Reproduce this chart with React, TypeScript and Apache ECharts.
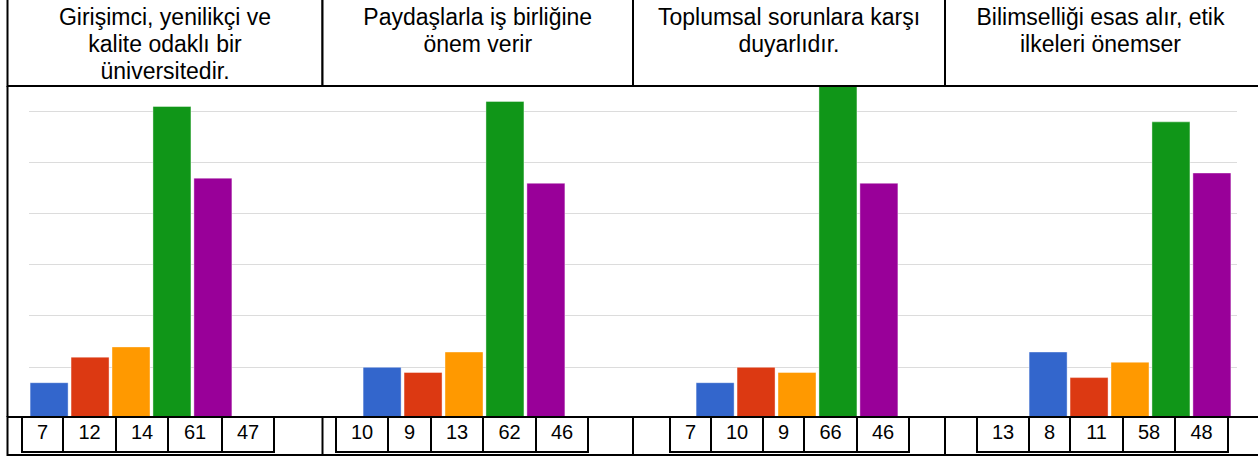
import React, { useEffect, useRef } from "react";
import * as echarts from "echarts";

// ---- data ----
const categories = [
  "Girişimci, yenilikçi ve\nkalite odaklı bir\nüniversitedir.",
  "Paydaşlarla iş birliğine\nönem verir",
  "Toplumsal sorunlara karşı\nduyarlıdır.",
  "Bilimselliği esas alır, etik\nilkeleri önemser",
];
const seriesBlue = [7, 10, 7, 13];
const seriesRed = [12, 9, 10, 8];
const seriesOrange = [14, 13, 9, 11];
const seriesGreen = [61, 62, 66, 58];
const seriesPurple = [47, 46, 46, 48];
const yTicks = [0, 10, 20, 30, 40, 50, 60, 70];

// ---- layout (positions, not data) ----
const OFF = 40; // chart canvas extends beyond the page on both sides
const CW = 1258 + 2 * OFF;
const headerEdges = [7.5, 322.5, 633, 945, 1262];
const cellEdges = [
  [22, 63, 116, 168, 222, 274],
  [336, 388, 431, 483, 536, 588],
  [670, 711, 763, 804, 857, 909],
  [977, 1029, 1070, 1123, 1175, 1228],
];
const FONT = "'Liberation Sans', Arial, sans-serif";

export default function App() {
  const ref = useRef<HTMLDivElement>(null);
  useEffect(() => {
    if (!ref.current) return;
    const chart = echarts.init(ref.current, undefined, { renderer: "svg" });
    const allSeries = [
      { data: seriesBlue, color: "#3366cc" },
      { data: seriesRed, color: "#dc3912" },
      { data: seriesOrange, color: "#ff9900" },
      { data: seriesGreen, color: "#109618" },
      { data: seriesPurple, color: "#990099" },
    ];
    const X = (v: number) => v + OFF;
    const graphics: any[] = [];
    const headerTop = -5;
    const headerBottom = 86;
    const rowTop = 417;
    const rowBottom = 455;
    const boxBottom = 452;
    const black = "#000";
    for (let i = 0; i < 4; i++) {
      graphics.push({
        type: "rect",
        z: 100,
        shape: { x: X(headerEdges[i]), y: headerTop, width: headerEdges[i + 1] - headerEdges[i], height: headerBottom - headerTop },
        style: { fill: "#fff", stroke: black, lineWidth: 2 },
      });
      graphics.push({
        type: "text",
        z: 101,
        x: X((headerEdges[i] + Math.min(headerEdges[i + 1], 1256)) / 2),
        y: 3,
        style: {
          text: categories[i],
          fontSize: 23,
          fontFamily: FONT,
          fill: "#000",
          align: "center",
          verticalAlign: "top",
          lineHeight: 27,
        },
      });
    }
    graphics.push({
      type: "line",
      z: 100,
      shape: { x1: X(7.5), y1: headerBottom, x2: X(7.5), y2: rowTop },
      style: { stroke: black, lineWidth: 2 },
    });
    graphics.push({
      type: "rect",
      z: 100,
      shape: { x: X(7.5), y: rowTop, width: 1262 - 7.5, height: rowBottom - rowTop },
      style: { fill: "#fff", stroke: black, lineWidth: 2 },
    });
    for (let i = 1; i < 4; i++) {
      graphics.push({
        type: "line",
        z: 101,
        shape: { x1: X(headerEdges[i]), y1: rowTop, x2: X(headerEdges[i]), y2: rowBottom },
        style: { stroke: black, lineWidth: 2 },
      });
    }
    for (let g = 0; g < 4; g++) {
      const e = cellEdges[g];
      graphics.push({
        type: "rect",
        z: 101,
        shape: { x: X(e[0]), y: rowTop, width: e[5] - e[0], height: boxBottom - rowTop },
        style: { fill: "none", stroke: black, lineWidth: 2 },
      });
      for (let k = 1; k < 5; k++) {
        graphics.push({
          type: "line",
          z: 101,
          shape: { x1: X(e[k]), y1: rowTop, x2: X(e[k]), y2: boxBottom },
          style: { stroke: black, lineWidth: 2 },
        });
      }
      for (let s = 0; s < 5; s++) {
        graphics.push({
          type: "text",
          z: 102,
          x: X((e[s] + e[s + 1]) / 2),
          y: 432,
          style: {
            text: String(allSeries[s].data[g]),
            fontSize: 20,
            fontFamily: FONT,
            fill: "#000",
            align: "center",
            verticalAlign: "middle",
          },
        });
      }
    }

    chart.setOption({
      animation: false,
      grid: [
        { left: 29 + OFF, right: CW - (1237 + OFF), top: 60, bottom: 41 },
        { left: 131 + OFF - 166.5, right: CW - (131 + OFF - 166.5 + 4 * 333), top: 60, bottom: 41 },
      ],
      xAxis: [
        { gridIndex: 0, type: "category", data: categories, show: false },
        { gridIndex: 1, type: "category", data: categories, show: false },
      ],
      yAxis: [
        {
          gridIndex: 0,
          type: "value",
          min: yTicks[0],
          max: yTicks[yTicks.length - 1],
          interval: 10,
          axisLine: { show: false },
          axisTick: { show: false },
          axisLabel: { show: false },
          splitLine: { show: true, lineStyle: { color: "#dcdcdc", width: 1 } },
        },
        {
          gridIndex: 1,
          type: "value",
          min: yTicks[0],
          max: yTicks[yTicks.length - 1],
          interval: 10,
          show: false,
          splitLine: { show: false },
        },
      ],
      series: allSeries.map((s, i) => ({
        type: "bar",
        name: "s" + (i + 1),
        xAxisIndex: 1,
        yAxisIndex: 1,
        data: s.data,
        barWidth: 39,
        barGap: "5%",
        itemStyle: { color: s.color, borderColor: "rgba(255,255,255,0.4)", borderWidth: 1 },
      })),
      graphic: graphics,
    });
    return () => chart.dispose();
  }, []);
  return (
    <div
      style={{ position: "absolute", left: 0, top: 0, width: 1258, height: 459, overflow: "hidden", background: "#fff" }}
    >
      <div ref={ref} style={{ position: "absolute", left: -OFF, top: 0, width: CW, height: 459 }} />
    </div>
  );
}
